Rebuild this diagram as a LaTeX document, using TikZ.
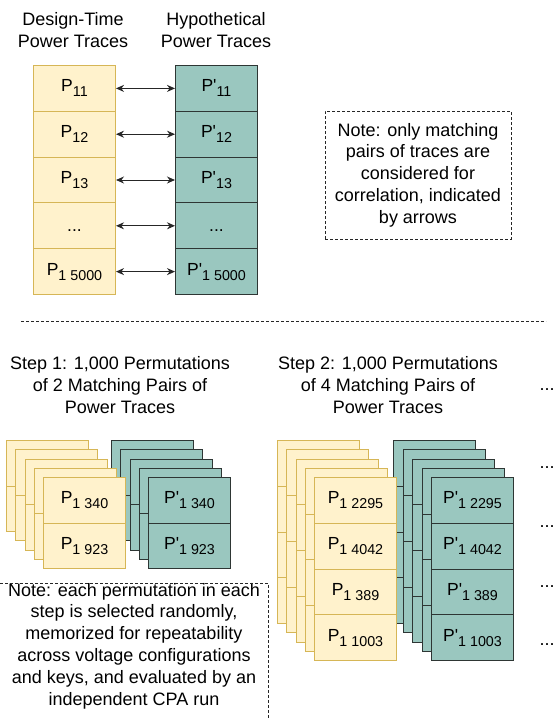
\documentclass[tikz,border=0pt]{standalone}
\usepackage{fontspec}
\setmainfont{Liberation Sans}[Ligatures=TeXOff]
\usetikzlibrary{arrows.meta}
\definecolor{yfill}{HTML}{FFF2CC}
\definecolor{ystroke}{HTML}{D6B656}
\definecolor{tfill}{HTML}{9AC7BF}
\definecolor{tstroke}{HTML}{2E3634}
\newcommand\fs{\fontsize{18}{21.8}\selectfont}
\newcommand\cs{\fontsize{17.5}{21}\selectfont}
\newcommand\Psub[1]{P\raisebox{-5pt}{\fontsize{14.3}{14.3}\selectfont #1}}
\newcommand\Ppsub[1]{P'\raisebox{-5pt}{\fontsize{14.3}{14.3}\selectfont #1}}
\begin{document}
\begin{tikzpicture}[x=1pt,y=-1pt,
  cell/.style={line width=1pt, minimum width=82pt, inner sep=0pt, anchor=north west, font=\cs},
  ycell/.style={cell, draw=ystroke, fill=yfill},
  tcell/.style={cell, draw=tstroke, fill=tfill},
  lbl/.style={font=\fs, align=center, inner sep=0pt},
  dline/.style={draw=black!85, line width=0.9pt, dash pattern=on 3pt off 2pt},
  arr/.style={draw=black!85, line width=1pt, {Stealth[length=8pt,width=7pt]}-{Stealth[length=8pt,width=7pt]}}
]
\useasboundingbox (0,0) rectangle (558,718);
\clip (0,0) rectangle (558,718);
\fill[white] (0,0) rectangle (558,718);

% ---------- top part ----------
\node[lbl] (h1) at (73,30) {Design-Time\\Power Traces};
\node[lbl] (h2) at (216,30) {Hypothetical\\Power Traces};

\node[ycell, minimum height=45.8pt] (a1) at (33,65) {\Psub{11}};
\node[ycell, minimum height=45.8pt] (a2) at (33,110.8) {\Psub{12}};
\node[ycell, minimum height=45.8pt] (a3) at (33,156.6) {\Psub{13}};
\node[ycell, minimum height=45.8pt] (a4) at (33,202.4) {\vphantom{P}...};
\node[ycell, minimum height=45.8pt] (a5) at (33,248.2) {\Psub{1 5000}};

\node[tcell, minimum height=45.8pt] (b1) at (175,65) {\Ppsub{11}};
\node[tcell, minimum height=45.8pt] (b2) at (175,110.8) {\Ppsub{12}};
\node[tcell, minimum height=45.8pt] (b3) at (175,156.6) {\Ppsub{13}};
\node[tcell, minimum height=45.8pt] (b4) at (175,202.4) {\vphantom{P}...};
\node[tcell, minimum height=45.8pt] (b5) at (175,248.2) {\Ppsub{1 5000}};

\foreach \i in {1,...,5} { \draw[arr] (a\i.east) -- (b\i.west); }

\node[lbl, dline, minimum width=186pt, minimum height=128pt] (note1) at (418,175)
  {Note: only matching\\pairs of traces are\\considered for\\correlation, indicated\\by arrows};

\coordinate (sepL) at (21,321);
\coordinate (sepR) at (546,321);
\draw[dline] (sepL) -- (sepR);

% ---------- step 1 ----------
\node[lbl] (t1) at (120,385) {Step 1: 1,000 Permutations\\of 2 Matching Pairs of\\Power Traces};

\foreach \k in {0,...,3} {
  \foreach \r in {0,1} {
    \node[tcell, minimum height=45.5pt] (s1t-\k-\r) at ({111+9.25*\k},{440+9.25*\k+45.5*\r}) {};
  }
}
\node[tcell, minimum height=45.5pt] (s1t-4-0) at (148,477) {\Ppsub{1 340}};
\node[tcell, minimum height=45.5pt] (s1t-4-1) at (148,522.5) {\Ppsub{1 923}};

\foreach \k in {0,...,3} {
  \foreach \r in {0,1} {
    \node[ycell, minimum height=45.5pt] (s1y-\k-\r) at ({6+9.25*\k},{440+9.25*\k+45.5*\r}) {};
  }
}
\node[ycell, minimum height=45.5pt] (s1y-4-0) at (43,477) {\Psub{1 340}};
\node[ycell, minimum height=45.5pt] (s1y-4-1) at (43,522.5) {\Psub{1 923}};

% ---------- step 2 ----------
\node[lbl] (t2) at (388,385) {Step 2: 1,000 Permutations\\of 4 Matching Pairs of\\Power Traces};

\foreach \k in {0,...,3} {
  \foreach \r in {0,...,3} {
    \node[tcell, minimum height=45.8pt] (s2t-\k-\r) at ({393+9.5*\k},{440+9.25*\k+45.8*\r}) {};
  }
}
\node[tcell, minimum height=45.8pt] (s2t-4-0) at (431,477) {\Ppsub{1 2295}};
\node[tcell, minimum height=45.8pt] (s2t-4-1) at (431,522.8) {\Ppsub{1 4042}};
\node[tcell, minimum height=45.8pt] (s2t-4-2) at (431,568.6) {\Ppsub{1 389}};
\node[tcell, minimum height=45.8pt] (s2t-4-3) at (431,614.4) {\Ppsub{1 1003}};

\foreach \k in {0,...,3} {
  \foreach \r in {0,...,3} {
    \node[ycell, minimum height=45.8pt] (s2y-\k-\r) at ({277+9.25*\k},{440+9.25*\k+45.8*\r}) {};
  }
}
\node[ycell, minimum height=45.8pt] (s2y-4-0) at (314,477) {\Psub{1 2295}};
\node[ycell, minimum height=45.8pt] (s2y-4-1) at (314,522.8) {\Psub{1 4042}};
\node[ycell, minimum height=45.8pt] (s2y-4-2) at (314,568.6) {\Psub{1 389}};
\node[ycell, minimum height=45.8pt] (s2y-4-3) at (314,614.4) {\Psub{1 1003}};

% ---------- dots on the right ----------
\node[lbl] (d1) at (547,390) {...};
\node[lbl] (d2) at (547,468) {...};
\node[lbl] (d3) at (547,527) {...};
\node[lbl] (d4) at (547,587) {...};
\node[lbl] (d5) at (547,645) {...};

% ---------- bottom note ----------
\node[lbl] (note2) at (134,646) {Note: each permutation in each\\step is selected randomly,\\memorized for repeatability\\across voltage configurations\\and keys, and evaluated by an\\independent CPA run};
\draw[dline] (-5,583) -| (268,730);
\end{tikzpicture}
\end{document}
